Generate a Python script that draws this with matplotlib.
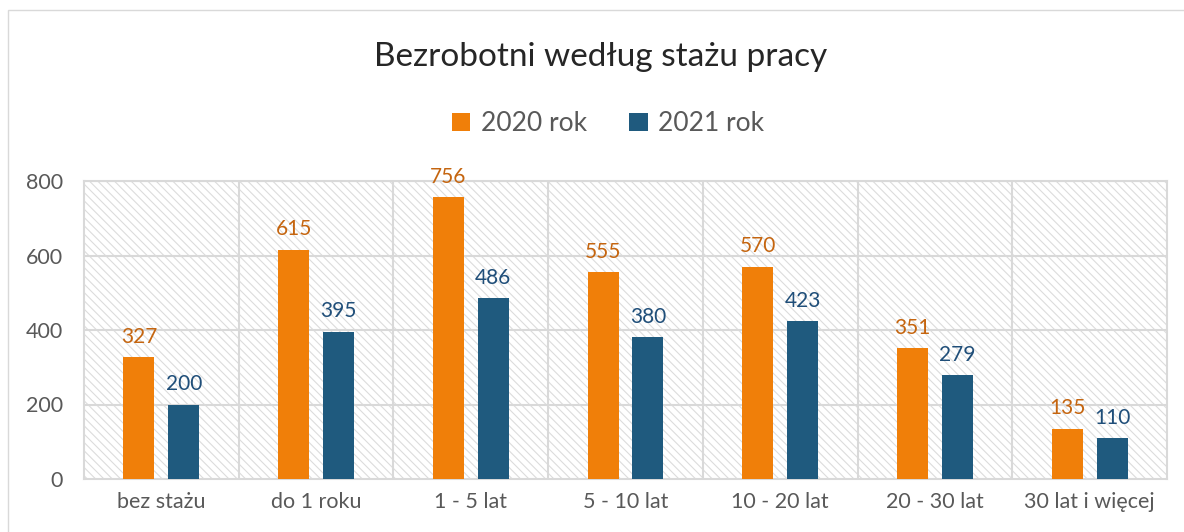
import numpy as np
import matplotlib.pyplot as plt
from matplotlib.patches import Rectangle

categories = ['bez stażu', 'do 1 roku', '1 - 5 lat', '5 - 10 lat', '10 - 20 lat', '20 - 30 lat', '30 lat i więcej']
vals_2020 = [327, 615, 756, 555, 570, 351, 135]
vals_2021 = [200, 395, 486, 380, 423, 279, 110]
series_names = ['2020 rok', '2021 rok']

orange = '#F07F09'
blue = '#1F5A7E'
orange_txt = '#C5650F'
blue_txt = '#1F4E79'
grey_txt = '#595959'

plt.rcParams['font.family'] = ['Lato', 'DejaVu Sans']
plt.rcParams['hatch.linewidth'] = 0.8
plt.rcParams['hatch.color'] = '#dcdcdc'

fig = plt.figure(figsize=(11.84, 5.32), dpi=100)
fig.patches.append(Rectangle((8 / 1184, -0.1), 1.2, (522 / 532) + 0.1, transform=fig.transFigure,
                             fill=False, edgecolor='#d9d9d9', lw=1))
ax = fig.add_axes([84 / 1184, 53 / 532, 1083 / 1184, 298 / 532])

ax.add_patch(Rectangle((0, 0), 1, 1, transform=ax.transAxes, facecolor='white',
                       edgecolor='#dcdcdc', hatch='\\\\\\\\', lw=0, zorder=0))

x = np.arange(len(categories))
w = 0.2
off = 0.145
b1 = ax.bar(x - off, vals_2020, w, color=orange, label=series_names[0], zorder=3)
b2 = ax.bar(x + off, vals_2021, w, color=blue, label=series_names[1], zorder=3)

for bars, vals, c in [(b1, vals_2020, orange_txt), (b2, vals_2021, blue_txt)]:
    for r, v in zip(bars, vals):
        ax.text(r.get_x() + r.get_width() / 2, v + 28, str(v), ha='center', va='bottom',
                fontsize=15, color=c, zorder=4)

ax.set_xlim(-0.5, len(categories) - 0.5)
ax.set_ylim(0, 800)
ax.set_yticks([0, 200, 400, 600, 800])
ax.set_xticks(x)
ax.set_xticklabels(categories)
ax.tick_params(axis='both', length=0, labelsize=15.5, labelcolor=grey_txt)
ax.tick_params(axis='x', pad=9)
ax.tick_params(axis='y', pad=15)

for yv in [200, 400, 600, 800]:
    ax.axhline(yv, color='#d9d9d9', lw=1.5, zorder=1)
for xv in np.arange(0.5, len(categories) - 0.5, 1):
    ax.axvline(xv, color='#d9d9d9', lw=1.5, zorder=1)
for s in ax.spines.values():
    s.set_color('#d9d9d9')
    s.set_linewidth(1.5)

fig.text(601 / 1184, 1 - 57 / 532, 'Bezrobotni według stażu pracy', ha='center', va='center',
         fontsize=24, color='#262626')
fig.legend(handles=[b1, b2], loc='center', bbox_to_anchor=(608 / 1184, 1 - 124 / 532), ncol=2,
           frameon=False, fontsize=19, labelcolor=grey_txt, handlelength=0.7, handleheight=0.7,
           handletextpad=0.4, columnspacing=1.6)

fig.savefig('out.png', dpi=100)
